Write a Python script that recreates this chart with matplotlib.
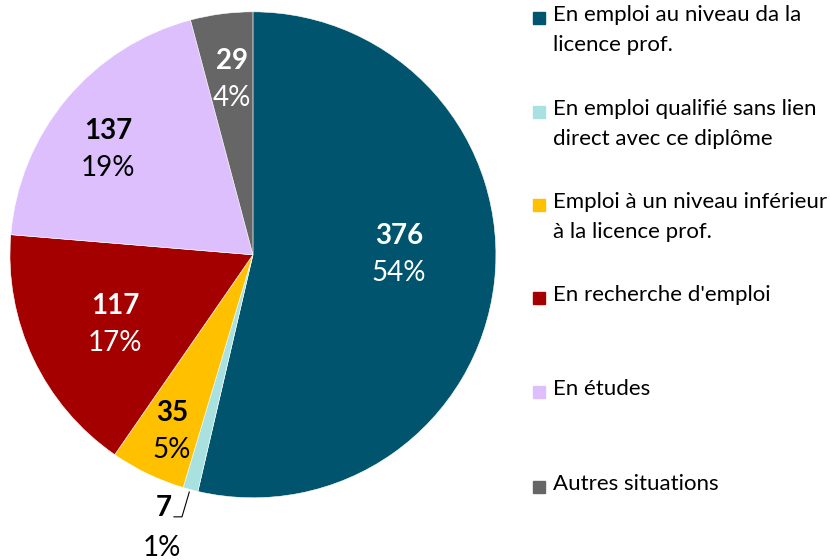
import matplotlib.pyplot as plt
from matplotlib.patches import Rectangle
import numpy as np

plt.rcParams['font.family'] = ['Lato', 'DejaVu Sans']

labels = ["En emploi au niveau da la\nlicence prof.",
          "En emploi qualifié sans lien\ndirect avec ce diplôme",
          "Emploi à un niveau inférieur\nà la licence prof.",
          "En recherche d'emploi",
          "En études",
          "Autres situations"]
counts = [376, 7, 35, 117, 137, 29]
pcts = ["54%", "1%", "5%", "17%", "19%", "4%"]
colors = ['#00546E', '#A9E1E1', '#FFC000', '#A50000', '#DCBFFC', '#666666']
text_colors = ['white', 'black', 'black', 'white', 'black', 'white']
label_r = [0.6, 0, 0.8, 0.637, 0.737, 0.725]
label_shift = [6.5, 0, 1.1, 1.6, 4.0, -0.6]   # degrees, counterclockwise

fig = plt.figure(figsize=(8.3, 5.6), dpi=100)
ax = fig.add_axes([0.012, 0.111, 0.5855, 0.868])
wedges, _ = ax.pie(counts, colors=colors, startangle=90, counterclock=False,
                   radius=1, wedgeprops=dict(edgecolor='white', linewidth=0.4))
ax.set_xlim(-1, 1)
ax.set_ylim(-1, 1)
ax.set_aspect('equal')
ax.axis('off')

for i, w in enumerate(wedges):
    ang = np.deg2rad((w.theta1 + w.theta2) / 2 + label_shift[i])
    if i == 1:
        # small slice: label outside with leader line
        x0, y0 = np.cos(ang), np.sin(ang)
        ax.plot([x0 - 0.005, x0 - 0.035, x0 - 0.068], [y0 - 0.01, y0 - 0.112, y0 - 0.112],
                color='black', lw=0.8, clip_on=False)
        ax.text(x0 - 0.078, y0 - 0.075, str(counts[i]), ha='right', va='center',
                fontsize=20, fontweight='bold', color=text_colors[i], clip_on=False)
        ax.text(x0 - 0.117, y0 - 0.242, pcts[i], ha='center', va='center',
                fontsize=20, color=text_colors[i], clip_on=False)
        continue
    x, y = label_r[i] * np.cos(ang), label_r[i] * np.sin(ang)
    ax.text(x, y + 0.076, str(counts[i]), ha='center', va='center',
            fontsize=20, fontweight='bold', color=text_colors[i])
    ax.text(x, y - 0.076, pcts[i], ha='center', va='center',
            fontsize=20, color=text_colors[i])

# legend
ys = [18, 112, 205, 298, 392, 487]
for lab, c, yp in zip(labels, colors, ys):
    fig.add_artist(Rectangle((533 / 830, 1 - (yp + 6) / 560), 12 / 830, 12 / 560,
                             transform=fig.transFigure, color=c))
    fig.text(553 / 830, 1 - (yp - 13) / 560, lab, ha='left', va='top',
             fontsize=16, linespacing=1.6)

plt.savefig('out.png', dpi=100)
